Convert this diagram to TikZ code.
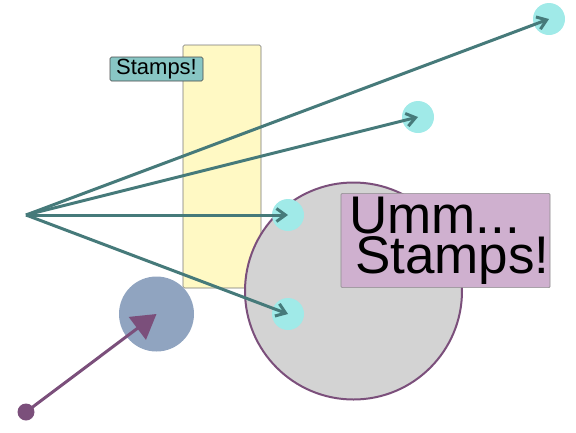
\documentclass[tikz,border=0pt]{standalone}
\usepackage{fontspec}
\setmainfont{Liberation Sans}
\usetikzlibrary{arrows.meta}
\definecolor{ink}{HTML}{1A1A1A}
\definecolor{stampteal}{HTML}{88C6C4}
\definecolor{arrowteal}{HTML}{467A7A}
\definecolor{dotcyan}{HTML}{A0EAE8}
\definecolor{plum}{HTML}{7B4F7B}
\definecolor{lilac}{HTML}{CFB0CF}
\definecolor{paleyellow}{HTML}{FFF9C4}
\definecolor{slate}{HTML}{90A4C0}
\definecolor{disc}{HTML}{D3D3D3}
\tikzset{
  pillar/.style={draw=ink!60, fill=paleyellow, rounded corners=1.5pt, line width=0.6pt},
  tag/.style={draw=ink!80, fill=stampteal, rounded corners=1.5pt, line width=0.6pt,
              font=\fontsize{22}{24}\selectfont, inner xsep=5pt, inner ysep=1pt,
              minimum width=93pt, minimum height=24pt},
  bigtag/.style={draw=ink!50, fill=lilac, rounded corners=1pt, line width=0.6pt,
                 font=\fontsize{53}{40}\selectfont, align=left, inner xsep=4pt,
                 text width=201pt, minimum width=209pt, minimum height=93pt},
  bigdisc/.style={circle, draw=plum, line width=2pt, fill=disc, inner sep=0pt},
  target/.style={circle, fill=dotcyan, minimum size=32pt, inner sep=0pt},
  hub/.style={circle, fill=slate, minimum size=75pt, inner sep=0pt},
  origin/.style={circle, fill=plum, minimum size=17pt, inner sep=0pt},
  arr/.style={-{Straight Barb[length=9pt, width=13pt, line width=3pt]}, line width=3pt, draw=arrowteal},
  parr/.style={-{Triangle[length=24pt, width=28pt]}, line width=3pt, draw=plum},
}
\begin{document}
\begin{tikzpicture}[x=1pt, y=-1pt]
\useasboundingbox (0,0) rectangle (576,432);

% --- background shapes ---
\node[pillar, minimum width=78pt, minimum height=243pt] (pillar) at (222,166.5) {};
\node[tag] (stamps) at (156.5,69) {Stamps!};
\node[bigdisc, minimum size=217pt] (disc) at (353.5,291) {};
\node[hub] (hub) at (156.5,314) {};
\node[bigtag] (umm) at (445.5,240.5) {\hspace*{4pt}Umm...\\\hspace*{10pt}Stamps!};

% --- targets ---
\node[target] (t1) at (549,19) {};
\node[target] (t2) at (418,117) {};
\node[target] (t3) at (288,215) {};
\node[target] (t4) at (288,314) {};

% --- fan of arrows ---
\coordinate (src) at (26,215);
\draw[arr] (src) -- (t1.center);
\draw[arr] (src) -- (t2.center);
\draw[arr] (src) -- (t3.center);
\draw[arr] (src) -- (t4.center);

% --- purple arrow into hub ---
\node[origin] (start) at (26,412) {};
\draw[parr] (start.center) -- (hub.center);

\end{tikzpicture}
\end{document}
